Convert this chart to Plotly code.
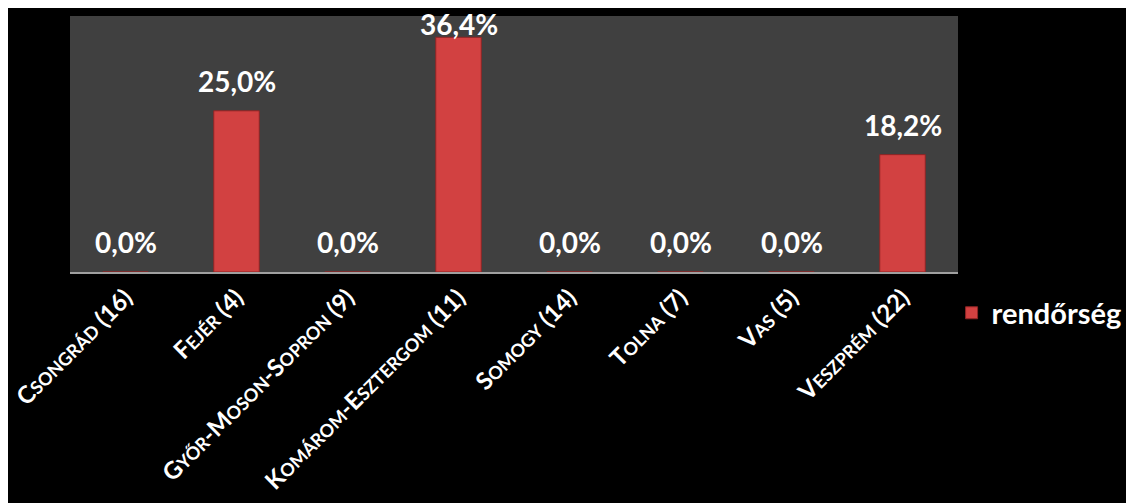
"""Rendőrség bar chart, megyénként."""

import plotly.graph_objects as go

categories = [
    "Csongrád (16)",
    "Fejér (4)",
    "Győr-Moson-Sopron (9)",
    "Komárom-Esztergom (11)",
    "Somogy (14)",
    "Tolna (7)",
    "Vas (5)",
    "Veszprém (22)",
]
values = [0.0, 25.0, 0.0, 36.4, 0.0, 0.0, 0.0, 18.2]
series_name = "rendőrség"

FONT = "Lato"
BIG = 24
SMALL = 18
Y_MAX = 39.7


def small_caps(label: str) -> str:
    # first letter of each word full size, the rest as smaller capitals
    out = []
    start = True
    for ch in label:
        if ch.isalpha() and not start:
            out.append(f"<span style='font-size:{SMALL}px'>{ch.upper()}</span>")
        else:
            out.append(ch.upper())
        start = not ch.isalpha()
    return "".join(out)


tick_text = [small_caps(c) for c in categories]
label_text = [f"{v:.1f}".replace(".", ",") + "%" for v in values]

fig = go.Figure(
    go.Bar(
        x=categories,
        y=values,
        name=series_name,
        marker=dict(color="#d24141", line=dict(color="#8e2424", width=1)),
        showlegend=True,
    )
)

for cat, val, txt in zip(categories, values, label_text):
    # labels sit ~30px over the bar, pulled down near the top of the plot
    shift = 30 if val < Y_MAX * 0.85 else 13
    fig.add_annotation(
        x=cat,
        y=val,
        text=f"<b>{txt}</b>",
        showarrow=False,
        yshift=shift,
        yanchor="middle",
        font=dict(family=FONT, size=28, color="white"),
    )

# the page body adds an 8px margin, so the figure is 8px smaller
fig.update_layout(
    width=1126,
    height=495,
    paper_bgcolor="black",
    plot_bgcolor="#404040",
    margin=dict(t=8, b=231, l=62, r=176, autoexpand=False),
    bargap=0.59,
    font=dict(family=FONT, color="white"),
    legend=dict(
        xref="container",
        yref="container",
        x=0.838,
        xanchor="left",
        y=0.384,
        yanchor="middle",
        font=dict(family=FONT, size=29, color="white", weight="bold"),
        bgcolor="rgba(0,0,0,0)",
    ),
)
fig.update_xaxes(
    tickvals=categories,
    ticktext=tick_text,
    tickangle=-45,
    tickfont=dict(family=FONT, size=BIG, color="white", weight="bold"),
    showline=True,
    linecolor="#a0a0a0",
    linewidth=2,
    showgrid=False,
    ticks="",
    automargin=False,
)
fig.update_yaxes(range=[0, Y_MAX], visible=False, showgrid=False)

fig.write_html("out.html")
